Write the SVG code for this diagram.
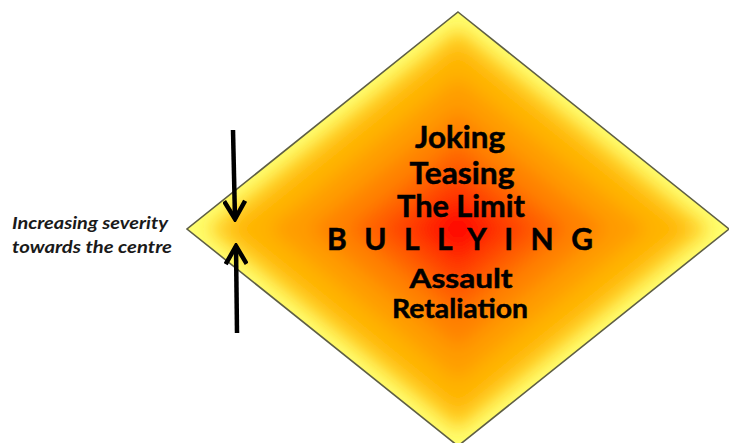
<svg xmlns="http://www.w3.org/2000/svg" xmlns:xlink="http://www.w3.org/1999/xlink" width="729" height="443" viewBox="0 0 729 443">
<style>
.lbl{font-family:Lato,"Liberation Sans",sans-serif;font-weight:700;fill:#000;stroke:#000;stroke-width:0.5;text-anchor:middle}
.note{font-family:Lato,"Liberation Sans",sans-serif;font-style:italic;font-weight:700;fill:#1a1a1a}
.arr{stroke:#000;stroke-width:4.5;fill:none}
</style>
<defs>
<path id="dia" d="M0,-217 L271,0 L0,217 L-271,0Z"/>
<clipPath id="clip"><use xlink:href="#dia"/></clipPath>
<filter id="blur" x="-20%" y="-20%" width="140%" height="140%"><feGaussianBlur stdDeviation="9"/></filter>
<marker id="head" viewBox="0 0 24 24" refX="21" refY="12" markerWidth="24" markerHeight="24" markerUnits="userSpaceOnUse" orient="auto">
<path d="M3,1.5 L21,12 L3,22.5" fill="none" stroke="#000" stroke-width="4.5" stroke-linejoin="miter"/>
</marker>
</defs>
<rect width="729" height="443" fill="#fff"/>
<g id="diamond" transform="translate(458 229)">
<use xlink:href="#dia" fill="#FFFF70"/>
<g clip-path="url(#clip)">
<g filter="url(#blur)">
<use xlink:href="#dia" fill="#FFCC20" transform="scale(0.93)"/>
<use xlink:href="#dia" fill="#FFB400" transform="scale(0.85)"/>
<use xlink:href="#dia" fill="#FF9C00" transform="scale(0.7)"/>
<use xlink:href="#dia" fill="#FF8200" transform="scale(0.55)"/>
<use xlink:href="#dia" fill="#FF6200" transform="scale(0.4)"/>
<use xlink:href="#dia" fill="#FF4200" transform="scale(0.28)"/>
<use xlink:href="#dia" fill="#FF2000" transform="scale(0.17)"/>
<use xlink:href="#dia" fill="#FF0000" transform="scale(0.08)"/>
</g>
</g>
<use xlink:href="#dia" fill="none" stroke="#5f5f45" stroke-width="1.6"/>
</g>
<g id="labels">
<text class="lbl" x="460" y="148" font-size="30" textLength="90" lengthAdjust="spacingAndGlyphs">Joking</text>
<text class="lbl" x="462" y="184" font-size="30" textLength="105" lengthAdjust="spacingAndGlyphs">Teasing</text>
<text class="lbl" x="461" y="217" font-size="30" textLength="128" lengthAdjust="spacingAndGlyphs">The Limit</text>
<text class="lbl" x="460" y="250" font-size="30" textLength="266" lengthAdjust="spacing">BULLYING</text>
<text class="lbl" x="461" y="288" font-size="27" textLength="103" lengthAdjust="spacingAndGlyphs">Assault</text>
<text class="lbl" x="460" y="318" font-size="27" textLength="136" lengthAdjust="spacingAndGlyphs">Retaliation</text>
</g>
<g id="note">
<text class="note" x="12" y="229" font-size="17" textLength="156" lengthAdjust="spacingAndGlyphs">Increasing severity</text>
<text class="note" x="12" y="253" font-size="17" textLength="160" lengthAdjust="spacingAndGlyphs">towards the centre</text>
</g>
<g id="connectors">
<line class="arr" x1="233" y1="130" x2="235" y2="219" marker-end="url(#head)"/>
<line class="arr" x1="237" y1="333" x2="236" y2="246" marker-end="url(#head)"/>
</g>
</svg>
